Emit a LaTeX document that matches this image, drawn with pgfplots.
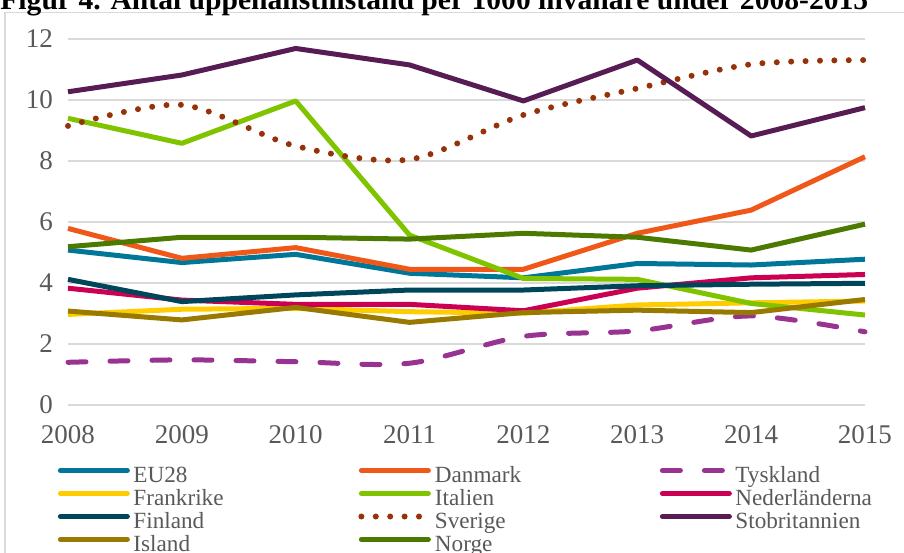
\documentclass[border=0pt]{standalone}
\usepackage{fontspec}
\setmainfont{Liberation Serif}
\usepackage{pgfplots}
\usepackage{pgfplotstable}
\pgfplotsset{compat=1.18}
\definecolor{cEU}{RGB}{0,118,152}
\definecolor{cDK}{RGB}{240,88,26}
\definecolor{cDE}{RGB}{153,51,145}
\definecolor{cFR}{RGB}{255,204,0}
\definecolor{cIT}{RGB}{128,196,0}
\definecolor{cNL}{RGB}{204,0,82}
\definecolor{cFI}{RGB}{0,70,90}
\definecolor{cSE}{RGB}{150,50,10}
\definecolor{cUK}{RGB}{88,28,84}
\definecolor{cIS}{RGB}{153,122,0}
\definecolor{cNO}{RGB}{76,122,0}
\definecolor{txtgray}{RGB}{89,89,89}
\definecolor{gridgray}{RGB}{217,217,217}

\pgfplotstableread{
year EU   DK   DE   FR   IT   NL   FI   SE    UK    IS   NO
2008 5.08 5.79 1.40 2.97 9.40 3.83 4.12 9.15  10.27 3.08 5.19
2009 4.67 4.81 1.48 3.14 8.58 3.44 3.39 9.84  10.82 2.79 5.50
2010 4.94 5.16 1.42 3.17 9.97 3.30 3.61 8.49  11.69 3.20 5.50
2011 4.32 4.45 1.37 3.06 5.57 3.30 3.77 8.05  11.15 2.71 5.44
2012 4.17 4.45 2.25 3.01 4.15 3.09 3.77 9.51  9.97  3.03 5.63
2013 4.64 5.63 2.43 3.28 4.12 3.83 3.91 10.38 11.31 3.11 5.50
2014 4.59 6.39 2.92 3.35 3.33 4.17 3.96 11.17 8.82  3.03 5.08
2015 4.78 8.14 2.40 3.41 2.95 4.28 3.99 11.31 9.75  3.46 5.93
}\datatable

\newcommand{\lentry}[1]{\hspace{1.75pt}\makebox[112.5pt][l]{#1}}

\begin{document}
\begin{tikzpicture}
% frame and (cut) title
\draw[gridgray, line width=0.8pt] (2.5pt,-6.25pt) rectangle (470pt,-300pt);
\node[anchor=base west, inner sep=0pt, font=\fontsize{14.8}{17}\selectfont\bfseries]
  at (0pt,-4.5pt) {Figur 4. Antal uppehållstillstånd per 1000 invånare under 2008-2015};

\begin{axis}[
    at={(34pt,-202.5pt)}, anchor=south west,
    scale only axis,
    width=398.5pt, height=183pt,
    xmin=2008, xmax=2015, ymin=0, ymax=12,
    xtick={2008,...,2015}, ytick={0,2,...,12},
    axis line style={draw=none},
    major tick length=0pt,
    ymajorgrids,
    grid style={gridgray, line width=0.8pt},
    clip=false,
    /pgf/number format/assume math mode=true,
    xticklabel style={/pgf/number format/1000 sep={}, font=\fontsize{13.5}{15}\selectfont, text=txtgray, yshift=-6.5pt},
    yticklabel style={font=\fontsize{13.5}{15}\selectfont, text=txtgray, xshift=-4pt},
    every axis plot/.append style={line width=2.5pt, line join=round},
    legend columns=3,
    legend cell align=left,
    legend image code/.code={\draw[#1, line cap=round] (0pt,3.65pt) -- (33.5pt,3.65pt);},
    legend style={
        draw=none, fill=none, inner sep=0pt,
        at={(-0.01317,-0.1664)}, anchor=north west,
        column sep=0pt, row sep=0pt,
        font=\fontsize{11.6}{13}\selectfont, text=txtgray,
        nodes={inner xsep=0pt, inner ysep=0pt, text height=8.2pt, text depth=3.3pt},
    },
]
\addplot[cEU] table[x=year, y=EU] {\datatable};
\addlegendentry{\lentry{EU28}}
\addplot[cDK] table[x=year, y=DK] {\datatable};
\addlegendentry{\lentry{Danmark}}
\addplot[cDE, smooth, tension=0.5, line cap=round, dash pattern=on 9pt off 12pt] table[x=year, y=DE] {\datatable};
\addlegendentry{\lentry{Tyskland}}
\addplot[cFR] table[x=year, y=FR] {\datatable};
\addlegendentry{\lentry{Frankrike}}
\addplot[cIT] table[x=year, y=IT] {\datatable};
\addlegendentry{\lentry{Italien}}
\addplot[cNL] table[x=year, y=NL] {\datatable};
\addlegendentry{\lentry{Nederländerna}}
\addplot[cFI] table[x=year, y=FI] {\datatable};
\addlegendentry{\lentry{Finland}}
\addplot[cSE, smooth, tension=0.5, line width=3pt, line cap=round, dash pattern=on 0pt off 7.2pt] table[x=year, y=SE] {\datatable};
\addlegendentry{\lentry{Sverige}}
\addplot[cUK] table[x=year, y=UK] {\datatable};
\addlegendentry{\lentry{Stobritannien}}
\addplot[cIS] table[x=year, y=IS] {\datatable};
\addlegendentry{\lentry{Island}}
\addplot[cNO] table[x=year, y=NO] {\datatable};
\addlegendentry{\lentry{Norge}}
\end{axis}

\pgfresetboundingbox
\path[use as bounding box] (0pt,0pt) rectangle (452pt,-276pt);
\end{tikzpicture}
\end{document}
